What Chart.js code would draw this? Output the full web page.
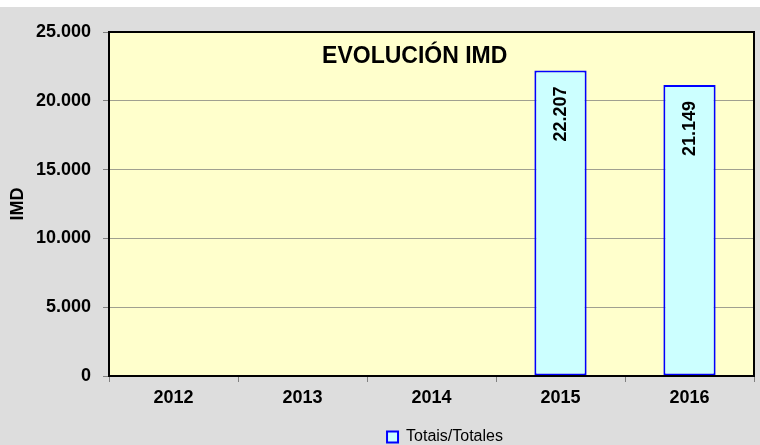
<!DOCTYPE html>
<html>
<head>
<meta charset="utf-8">
<script src="https://cdn.jsdelivr.net/npm/chart.js@4"></script>
<style>
html,body{margin:0;padding:0;background:#ffffff;}
#wrap{width:760px;height:445px;position:relative;}
</style>
</head>
<body>
<div id="wrap"><canvas id="c" width="760" height="445"></canvas></div>
<script>
const categories = ['2012', '2013', '2014', '2015', '2016'];
const totales = [null, null, null, 22207, 21149];
const seriesName = 'Totais/Totales';
const chartTitle = 'EVOLUCIÓN IMD';
const yTitle = 'IMD';
const yMin = 0, yMax = 25000, yStep = 5000;

const FONT = '"Liberation Sans", Arial, sans-serif';
function fmt(v) {
  return String(Math.round(v)).replace(/\B(?=(\d{3})+(?!\d))/g, '.');
}

const bgPlugin = {
  id: 'bg',
  afterLayout(chart) {
    const lg = chart.legend;
    if (lg) {
      lg.left += 68; lg.right += 68;
      lg.top += 10; lg.bottom += 10;
    }
  },
  beforeDraw(chart) {
    const ctx = chart.ctx, a = chart.chartArea;
    ctx.save();
    ctx.fillStyle = '#ffffff';
    ctx.fillRect(0, 0, chart.width, chart.height);
    ctx.fillStyle = '#dddddd';
    ctx.fillRect(0, 7, chart.width, chart.height - 7);
    ctx.fillStyle = '#ffffcc';
    ctx.fillRect(a.left, a.top, a.right - a.left, a.bottom - a.top);
    ctx.restore();
  },
  afterDatasetsDraw(chart) {
    const ctx = chart.ctx, a = chart.chartArea;
    const meta = chart.getDatasetMeta(0);
    ctx.save();
    ctx.font = 'bold 18px ' + FONT;
    ctx.fillStyle = '#000000';
    ctx.textAlign = 'right';
    ctx.textBaseline = 'middle';
    meta.data.forEach((el, i) => {
      const v = chart.data.datasets[0].data[i];
      if (v === null || v === undefined) return;
      ctx.save();
      ctx.translate(el.x + 1, el.y + 16);
      ctx.rotate(-Math.PI / 2);
      ctx.fillText(fmt(v), 0, 0);
      ctx.restore();
    });
    ctx.font = 'bold 23px ' + FONT;
    ctx.textAlign = 'center';
    ctx.textBaseline = 'middle';
    ctx.fillText(chartTitle, a.left + (a.right - a.left) * 0.474, a.top + 25);
    ctx.strokeStyle = '#000000';
    ctx.lineWidth = 2;
    ctx.strokeRect(a.left, a.top, a.right - a.left, a.bottom - a.top);
    ctx.restore();
  }
};

new Chart(document.getElementById('c'), {
  type: 'bar',
  data: {
    labels: categories,
    datasets: [{
      label: seriesName,
      data: totales,
      backgroundColor: '#ccffff',
      borderColor: '#0000ff',
      borderWidth: 2,
      borderSkipped: false,
      categoryPercentage: 1.0,
      barPercentage: 0.405
    }]
  },
  options: {
    responsive: false,
    animation: false,
    devicePixelRatio: 1,
    layout: { padding: { left: 0, right: 6, top: 32, bottom: 0 } },
    plugins: {
      legend: {
        display: true,
        position: 'bottom',
        labels: {
          font: { family: FONT, size: 16 },
          color: '#000000',
          boxWidth: 11,
          boxHeight: 11,
          padding: 6
        }
      },
      tooltip: { enabled: false },
      title: { display: false }
    },
    scales: {
      x: {
        offset: true,
        grid: { display: true, drawOnChartArea: false, tickLength: 6, color: '#808080', offset: true },
        border: { display: true, color: '#000000', width: 2 },
        ticks: { font: { family: FONT, size: 18, weight: 'bold' }, color: '#000000', padding: 5 },
        afterFit(s) { s.height = 37; }
      },
      y: {
        min: yMin, max: yMax,
        ticks: {
          stepSize: yStep,
          font: { family: FONT, size: 18, weight: 'bold' },
          color: '#000000',
          padding: 12,
          callback: (v) => fmt(v)
        },
        grid: { color: '#a0a090', tickColor: '#808080', tickLength: 6, lineWidth: 1 },
        border: { display: true, color: '#000000', width: 2 },
        title: {
          display: true,
          text: yTitle,
          font: { family: FONT, size: 18, weight: 'bold' },
          color: '#000000',
          padding: { top: 7, bottom: 0 }
        },
        afterFit(s) { s.width = 109; }
      }
    }
  },
  plugins: [bgPlugin]
});
</script>
</body>
</html>
